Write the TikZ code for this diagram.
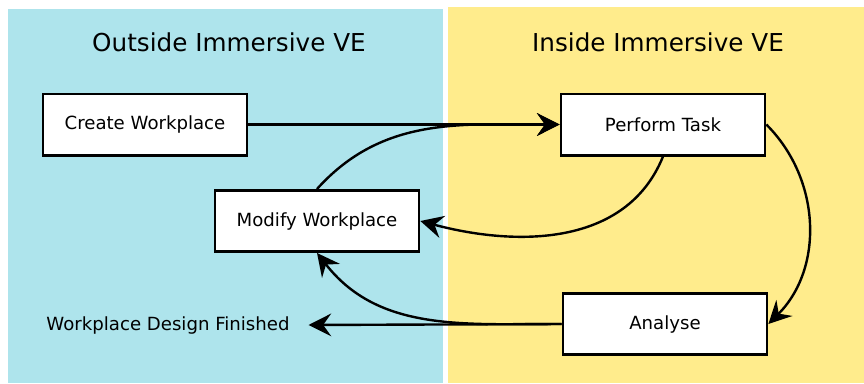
\documentclass[tikz,border=0pt]{standalone}
\usepackage{fontspec}
\setmainfont{DejaVu Sans}
\usetikzlibrary{arrows.meta}

\definecolor{outsideblue}{RGB}{174,228,236}
\definecolor{insideyellow}{RGB}{255,236,140}

\tikzset{
  stagebox/.style={draw=black, fill=white, line width=2pt,
    minimum width=153pt, minimum height=46pt, font=\fontsize{13.6}{15}\selectfont},
  flow/.style={line width=1.8pt, -{Stealth[length=17pt,width=17pt,inset=6pt]}},
  paneltitle/.style={font=\fontsize{18.5}{22}\selectfont}
}

\begin{document}
\begin{tikzpicture}[x=0.75pt,y=-0.75pt]
  \useasboundingbox (0,0) rectangle (864,383);
  % the two sides
  \fill [outsideblue] (8,9) rectangle (443,383);
  \fill [insideyellow] (448,7) rectangle (864,383);
  \node [paneltitle] (outside) at (229,42) {Outside Immersive VE};
  \node [paneltitle] (inside) at (658,42) {Inside Immersive VE};

  % stages
  \node [stagebox] (create) at (145,124.5) {Create Workplace};
  \node [stagebox] (perform) at (663,124.5) {Perform Task};
  \node [stagebox] (modify) at (317,221) {Modify Workplace};
  \node [stagebox] (analyse) at (665,324) {Analyse};
  \node [font=\fontsize{13.6}{15}\selectfont, inner xsep=14pt] (finished) at (168,325) {Workplace Design Finished};

  % loop
  \draw [flow] (create.east) -- (perform.west);
  \draw [flow] (modify.north) to[out=48,in=180] (perform.west);
  \draw [flow] (perform.south) to[out=-112,in=-15] (modify.east);
  \draw [flow] (perform.east) to[out=-45,in=45] (analyse.east);
  \draw [flow] (analyse.west) -- (finished.east);
  \draw [flow] (analyse.west) to[out=180,in=-52] (modify.south);
\end{tikzpicture}
\end{document}
